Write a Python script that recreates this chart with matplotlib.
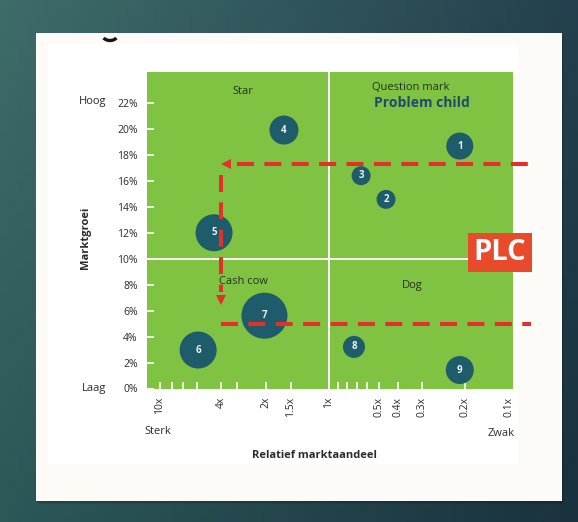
import numpy as np
import matplotlib.pyplot as plt
from matplotlib.patches import Rectangle, Arc
from matplotlib.transforms import offset_copy

plt.rcParams['font.family'] = ['Open Sans', 'DejaVu Sans']

# BCG-matrix: producten met relatief marktaandeel (x) en marktgroei (%)
producten = ['1', '2', '3', '4', '5', '6', '7', '8', '9']
marktaandeel = [0.21, 0.46, 0.66, 1.62, 4.27, 4.96, 2.03, 0.73, 0.21]
marktgroei = [18.65, 14.55, 16.37, 19.88, 11.98, 2.96, 5.6, 3.2, 1.42]
omvang = [27, 19, 19, 29, 37, 37, 46, 22, 28]  # bubble diameter

groei_ticks = list(range(0, 23, 2))
groei_labels = [f'{g}%' for g in groei_ticks]
aandeel_ticks = [10, 4, 2, 1.5, 1, 0.5, 0.4, 0.3, 0.2, 0.1]
aandeel_labels = ['10x', '4x', '2x', '1.5x', '1x', '0.5x', '0.4x', '0.3x', '0.2x', '0.1x']
aandeel_minor = [8, 6, 5, 3, 0.9, 0.8, 0.7, 0.6]

# PLC route (de rode pijlen)
plc_hoog = 17.3
plc_laag = 4.95
plc_aandeel = 4

GREEN = '#80c241'
BUBBLE = '#1e5b6b'
RED = '#e3302a'
TXT = '#2b2b2b'

# the printed x axis is only roughly logarithmic, so map log10 onto its tick spacing
schaal_waarde = [100, 10, 8, 6, 5, 4, 3, 2, 1.5, 1, 0.9, 0.8, 0.7, 0.6,
                 0.5, 0.4, 0.3, 0.2, 0.1, 0.01]
schaal_px = [7, 160, 171.7, 183.3, 197.3, 221, 237.3, 265.5, 290.7, 329, 337.5,
             346.7, 357.3, 367.3, 378.7, 398.3, 421.7, 465, 509, 655]
knot_u = -np.log10(schaal_waarde)


def fwd(x):
    # increasing in x; the axis itself gets inverted below
    x = np.clip(np.asarray(x, float), 1e-6, None)
    return -np.interp(-np.log10(x), knot_u, schaal_px)


def inv(q):
    return 10 ** -np.interp(-np.asarray(q, float), schaal_px, knot_u)


def px_naar_waarde(p):
    return 10 ** -np.interp(p, schaal_px, knot_u)


fig = plt.figure(figsize=(5.78, 5.22), dpi=100)

# background slide + card, in pixel coordinates
bg = fig.add_axes([0, 0, 1, 1])
bg.set_xlim(0, 578)
bg.set_ylim(522, 0)
bg.axis('off')
tl, tr = np.array([62, 108, 105]), np.array([36, 64, 78])
bl, br = np.array([44, 88, 88]), np.array([26, 50, 62])
u = np.linspace(0, 1, 64)[None, :, None]
v = np.linspace(0, 1, 64)[:, None, None]
grad = (tl * (1 - u) * (1 - v) + tr * u * (1 - v) + bl * (1 - u) * v + br * u * v) / 255
bg.imshow(grad, extent=(0, 578, 522, 0), aspect='auto', zorder=0)
for k in range(3):
    bg.add_patch(Rectangle((36 + k, 34 + k), 525.5, 468, fc='black', alpha=0.08, lw=0, zorder=1))
bg.add_patch(Rectangle((36, 33), 525.5, 468, fc='#fcfbf7', lw=0, zorder=2))
bg.add_patch(Rectangle((48, 44), 470, 420, fc='white', lw=0, zorder=2))
# cut-off glyph at the top edge of the card
bg.add_patch(Arc((110, 35), 15, 11, theta1=25, theta2=155, color='#151515', lw=2.4, zorder=3))

bg.text(92.7, 101.7, 'Hoog', ha='center', va='center', fontsize=8, color=TXT, zorder=3)
bg.text(94, 388, 'Laag', ha='center', va='center', fontsize=8, color=TXT, zorder=3)
bg.text(85, 238, 'Marktgroei', ha='center', va='center', rotation=90, fontsize=8,
        fontweight='bold', color=TXT, zorder=3)
bg.text(157.5, 431, 'Sterk', ha='center', va='center', fontsize=8, color=TXT, zorder=3)
bg.text(501.5, 433, 'Zwak', ha='center', va='center', fontsize=8, color=TXT, zorder=3)
bg.text(314.5, 455, 'Relatief marktaandeel', ha='center', va='center', fontsize=8,
        fontweight='bold', color=TXT, zorder=3)

# matrix
ax = fig.add_axes([147.3 / 578, (522 - 388.5) / 522, 366 / 578, 316.8 / 522])
ax.set_facecolor(GREEN)
ax.set_xscale('function', functions=(fwd, inv))
ax.set_xlim(px_naar_waarde(147.3), px_naar_waarde(513.3))
ax.set_ylim(0, 24.37)
for s in ax.spines.values():
    s.set_visible(False)

ax.axvline(1, color='white', lw=1.4, zorder=1)
ax.axhline(10, color='white', lw=1.4, zorder=1)

ax.set_yticks(groei_ticks, groei_labels)
ax.set_xticks(aandeel_ticks, aandeel_labels, rotation=90)
ax.set_xticks(aandeel_minor, minor=True)
ax.tick_params(axis='both', which='both', direction='in', color='white', width=1.2,
               length=5, labelsize=7.5, labelcolor=TXT)
ax.tick_params(axis='y', pad=7)
ax.tick_params(axis='x', pad=6)
ax.xaxis.get_major_ticks()[-1].tick1line.set_visible(False)

ax.scatter(marktaandeel, marktgroei, s=[(d * 0.72) ** 2 for d in omvang],
           color=BUBBLE, lw=0, zorder=3)
for naam, x, y in zip(producten, marktaandeel, marktgroei):
    ax.text(x, y, naam, ha='center', va='center', fontsize=7, fontweight='bold',
            color='#e8f2f2', zorder=4)

kw = dict(transform=ax.transAxes, ha='center', va='center', fontsize=8, color='#25321f')
ax.text(0.261, 0.936, 'Star', **kw)
ax.text(0.7205, 0.9486, 'Question mark', **kw)
ax.text(0.2615, 0.339, 'Cash cow', **kw)
ax.text(0.725, 0.3267, 'Dog', **kw)
ax.text(0.7505, 0.902, 'Problem child', transform=ax.transAxes, ha='center',
        va='center', fontsize=10, fontweight='bold', color='#1d4c70')

# PLC route
lijn = dict(color=RED, lw=2.9, dashes=(4.2, 2.6), clip_on=False, zorder=5)
ax.plot([3, 0.074], [plc_hoog, plc_hoog], **lijn)
ax.plot([plc_aandeel, plc_aandeel], [16.4, 7.4], **lijn)
ax.plot([plc_aandeel, 0.071], [plc_laag, plc_laag], **lijn)
ax.plot(plc_aandeel, plc_hoog, marker='<', ms=7.5, color=RED, mew=0, zorder=5,
        transform=offset_copy(ax.transData, fig=fig, x=5, y=0, units='dots'))
ax.plot(plc_aandeel, 6.42, marker='v', ms=7.5, color=RED, mew=0, zorder=5,
        transform=offset_copy(ax.transData, fig=fig, x=0, y=5, units='dots'))

ax.add_patch(Rectangle((0.877, 0.3687), 0.1732, 0.1212, transform=ax.transAxes,
                       fc='#e84b2b', lw=0, clip_on=False, zorder=6))
ax.text(0.9636, 0.4293, 'PLC', transform=ax.transAxes, ha='center', va='center',
        fontsize=21, fontweight='bold', color='white', zorder=7)

fig.savefig('out.png', dpi=100)
